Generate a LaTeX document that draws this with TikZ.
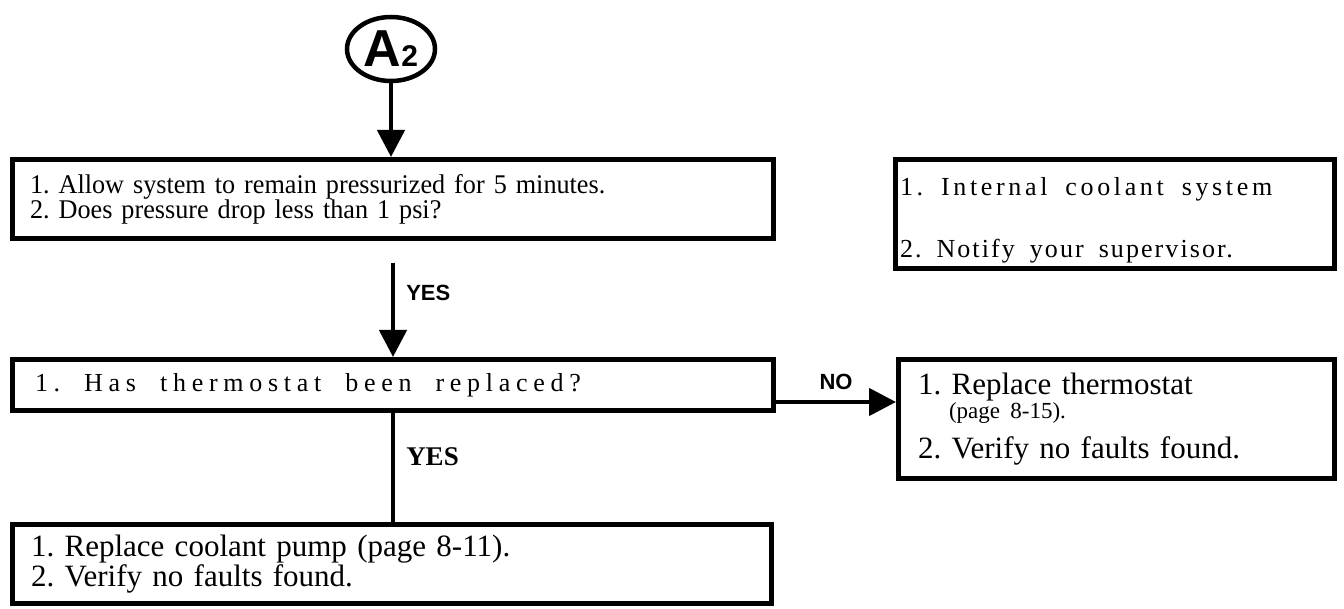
\documentclass[tikz,border=0pt]{standalone}
\usepackage{fontspec}
\setmainfont{Liberation Serif}
\newfontfamily\tagfont{Liberation Sans}
\newfontfamily\narrowfont[FakeStretch=0.97]{Liberation Serif}
\newfontfamily\spacedfont[LetterSpace=22]{Liberation Serif}
\newfontfamily\widefont[LetterSpace=14]{Liberation Serif}
\newfontfamily\notefont[LetterSpace=8]{Liberation Serif}
\usetikzlibrary{positioning,arrows.meta,shapes.geometric}
\frenchspacing

\begin{document}
\begin{tikzpicture}[
    x=1pt, y=-1pt,
    flowbox/.style={rectangle, draw, line width=5pt, anchor=north west,
                    align=left, inner ysep=0pt},
    tagsans/.style={font=\tagfont\bfseries\fontsize{22}{22}\selectfont, inner sep=0pt},
    tagserif/.style={font=\bfseries\fontsize{27}{27}\selectfont, inner sep=0pt},
    arr/.style={-{Triangle[width=27pt,length=27pt]}, line width=4.5pt},
    link/.style={line width=4.5pt}
]
\useasboundingbox (0,0) rectangle (1344,609);
\node[ellipse, draw, line width=4.5pt, minimum width=88pt, minimum height=64pt,
      inner sep=0pt, font=\tagfont\bfseries] (a2) at (391,49)
      {\fontsize{52}{52}\selectfont A\fontsize{30}{30}\selectfont 2};
\node[flowbox, minimum width=761pt, minimum height=79pt, inner xsep=17.5pt,
      text width=726pt, font=\narrowfont\fontsize{27}{25}\selectfont] (allow) at (10,157)
      {1. Allow system to remain pressurized for 5 minutes.\\
       2. Does pressure drop less than 1 psi?};
\node[flowbox, right=117pt of allow.north east, anchor=north west,
      minimum width=439pt, minimum height=109pt, inner xsep=4.5pt,
      text width=430pt, font=\fontsize{26}{62}\selectfont] (notify)
      {\rule{0pt}{30pt}{\widefont\spaceskip=18pt 1. Internal coolant system}\\
       {\notefont\spaceskip=15pt 2. Notify your supervisor.}};
\node[flowbox, below=116pt of allow.south west, anchor=north west,
      minimum width=761pt, minimum height=51pt, inner xsep=22.5pt,
      text width=716pt, font=\spacedfont\fontsize{26}{26}\selectfont] (think)
      {\spaceskip=24pt 1. Has thermostat been replaced?};
\node[flowbox, right=120pt of think.north east, anchor=north west,
      minimum width=436pt, minimum height=119pt, inner xsep=19.5pt,
      text width=397pt, font=\fontsize{31}{24}\selectfont] (repl)
      {1. Replace thermostat\\
       \hspace*{31pt}{\fontsize{23}{24}\selectfont (page 8-15).}\\[13pt]
       2. Verify no faults found.};
\node[flowbox, below=109pt of think.south west, anchor=north west,
      minimum width=759pt, minimum height=79pt, inner xsep=18.5pt,
      text width=722pt, font=\fontsize{31}{23}\selectfont] (pump)
      {1. Replace coolant pump (page 8-11).\\
       2. Verify no faults found.};

\draw[arr] (a2.south) -- (a2.south |- allow.north);
\draw[arr, shorten <=22pt] (allow.south)
      -- node[tagsans, right=11pt, pos=0.45] {YES} (allow.south |- think.north);
\draw[link] (think.south)
      -- node[tagserif, right=11pt, pos=0.4] {YES} (think.south |- pump.north);
\draw[arr] ([yshift=-17pt]think.east)
      -- node[tagsans, above=10pt] {NO} ([yshift=-17pt]think.east -| repl.west);
\end{tikzpicture}
\end{document}
